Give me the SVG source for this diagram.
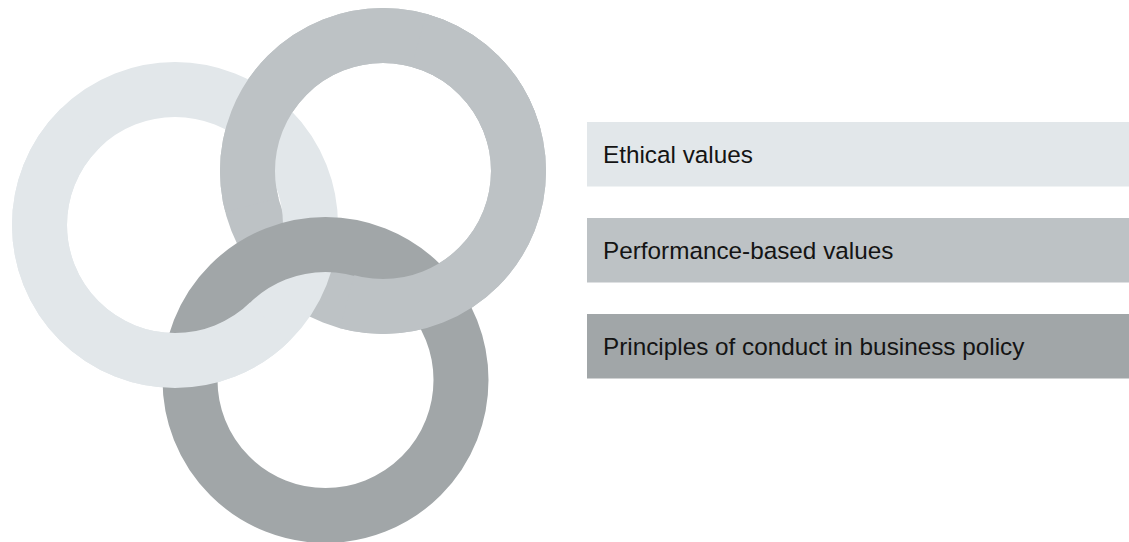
<svg xmlns="http://www.w3.org/2000/svg" width="1129" height="542" viewBox="0 0 1129 542">
  <style>
    .ring { fill: none; stroke-width: 55; }
    .light { stroke: #E2E7EA; }
    .mid { stroke: #BDC2C5; }
    .dark { stroke: #A1A6A8; }
    .box-light { fill: #E2E7EA; }
    .box-mid { fill: #BDC2C5; }
    .box-dark { fill: #A1A6A8; }
    .label { font-family: "Liberation Sans", Arial, Helvetica, sans-serif; font-size: 24.3px; fill: #141414; }
  </style>
  <defs>
    <clipPath id="clipAboveAB"><polygon points="0,0 600,0 600,114.7 0,270.4"/></clipPath>
    <clipPath id="clipLeftAC"><polygon points="0,44.8 560,621.5 0,621.5"/></clipPath>
    <clipPath id="clipRightBC"><polygon points="430,0 600,0 600,560 276,560"/></clipPath>
  </defs>

  <g id="rings">
    <g id="ring-performance">
      <circle class="ring mid" cx="383" cy="171" r="135.5"/>
    </g>
    <g id="ring-ethical">
      <circle class="ring light" cx="175" cy="225" r="135.5"/>
    </g>
    <g id="ring-principles">
      <circle class="ring dark" cx="325.5" cy="380" r="135.5"/>
    </g>
    <g id="interlace-patches">
      <circle class="ring mid" cx="383" cy="171" r="135.5" clip-path="url(#clipAboveAB)"/>
      <circle class="ring light" cx="175" cy="225" r="135.5" clip-path="url(#clipLeftAC)"/>
      <circle class="ring mid" cx="383" cy="171" r="135.5" clip-path="url(#clipRightBC)"/>
    </g>
  </g>

  <g id="legend-ethical">
    <rect class="box-light" x="587" y="122" width="542" height="64.5"/>
    <text class="label" x="603" y="163.3">Ethical values</text>
  </g>
  <g id="legend-performance">
    <rect class="box-mid" x="587" y="218" width="542" height="64.5"/>
    <text class="label" x="603" y="259">Performance-based values</text>
  </g>
  <g id="legend-principles">
    <rect class="box-dark" x="587" y="314" width="542" height="64.5"/>
    <text class="label" x="603" y="355.3">Principles of conduct in business policy</text>
  </g>
</svg>
